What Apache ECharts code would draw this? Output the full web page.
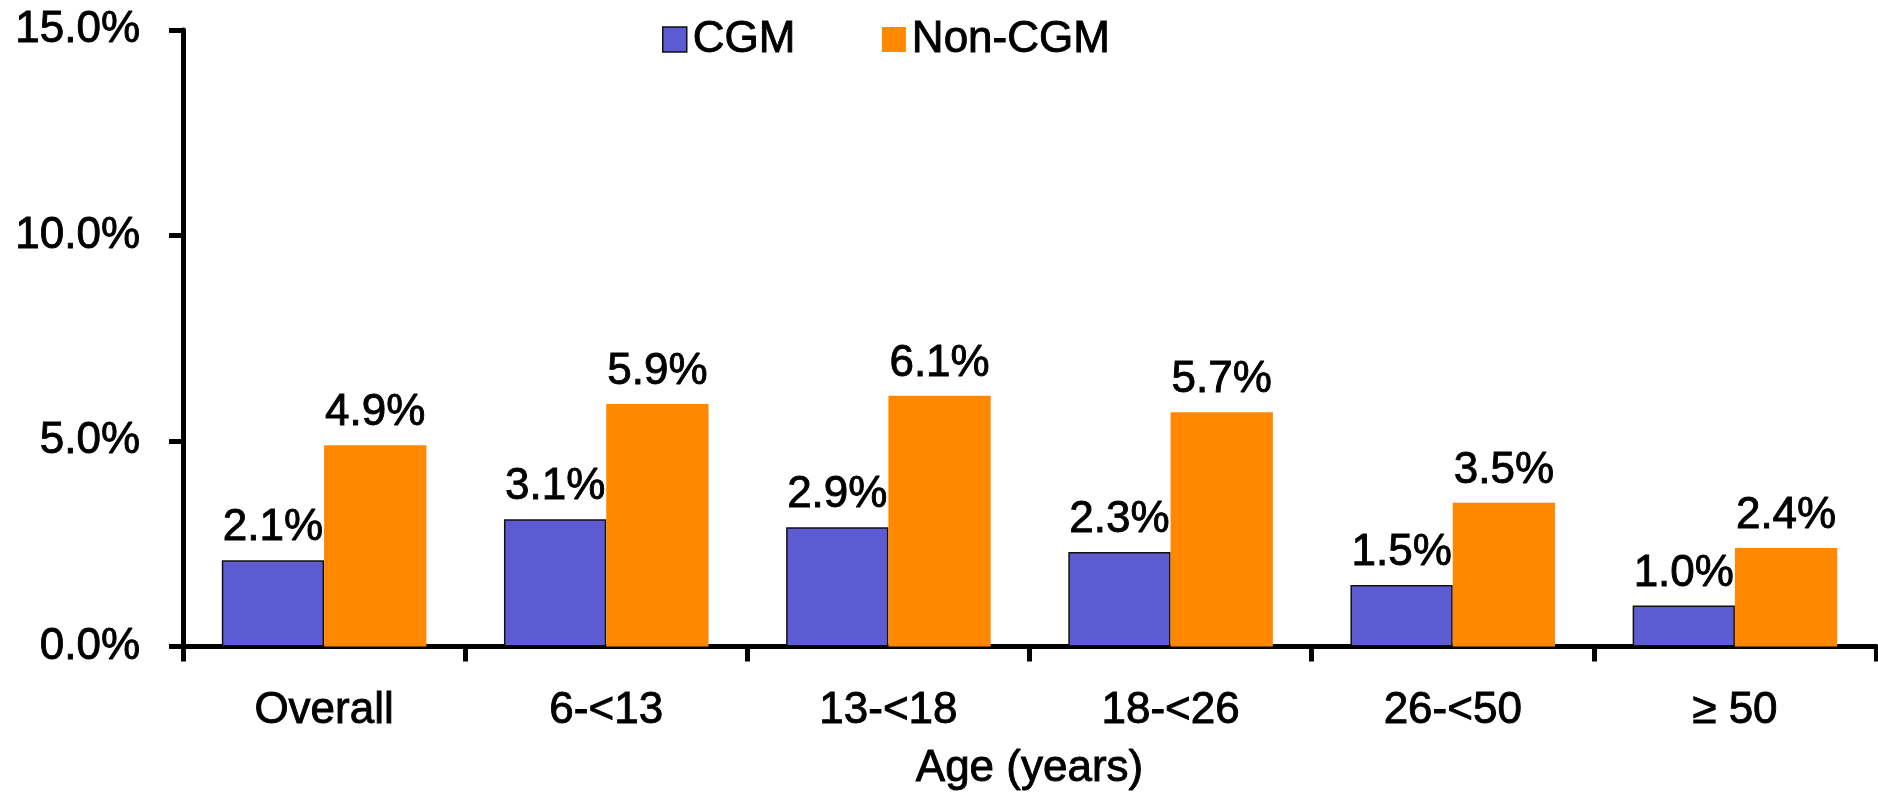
<!DOCTYPE html>
<html>
<head>
<meta charset="utf-8">
<script src="https://cdn.jsdelivr.net/npm/echarts@6/dist/echarts.min.js"></script>
<style>
  html, body { margin: 0; padding: 0; background: #ffffff; }
  #chart { width: 1878px; height: 796px; }
</style>
</head>
<body>
<div id="chart"></div>
<script>
// Age groups along the x axis
const categories = ['Overall', '6-<13', '13-<18', '18-<26', '26-<50', '\u2265 50'];
// Percentages per group
const cgmValues = [2.1, 3.1, 2.9, 2.3, 1.5, 1.0];
const nonCgmValues = [4.9, 5.9, 6.1, 5.7, 3.5, 2.4];
// Y axis range
const yMin = 0, yMax = 15, yStep = 5;

const FONT = '"Liberation Sans", Arial, sans-serif';
const FS = 44;
// a thin outline in the text colour gives the glyphs a slightly heavier weight
const heavy = { textBorderColor: '#000', textBorderWidth: 0.9 };

const chart = echarts.init(document.getElementById('chart'), null, { renderer: 'canvas' });

const labelStyle = Object.assign({
  show: true,
  position: 'top',
  distance: 10,
  color: '#000',
  fontFamily: FONT,
  fontSize: FS,
  formatter: p => p.value.toFixed(1) + '%'
}, heavy);

chart.setOption({
  animation: false,
  backgroundColor: '#ffffff',
  textStyle: { fontFamily: FONT },
  legend: {
    top: 12,
    left: 657,
    icon: 'rect',
    itemWidth: 24,
    itemHeight: 25,
    itemGap: 86,
    textStyle: Object.assign({ fontFamily: FONT, fontSize: FS, color: '#000', padding: [0, 0, 0, 1] }, heavy),
    data: [
      { name: 'CGM', itemStyle: { color: '#5D5BD1', borderColor: '#111', borderWidth: 1.5 } },
      { name: 'Non-CGM', itemStyle: { color: '#FF8800', borderWidth: 0 } }
    ]
  },
  grid: { left: 183, right: 2, top: 30, bottom: 146, containLabel: false },
  xAxis: {
    type: 'category',
    data: categories,
    name: 'Age (years)',
    nameLocation: 'middle',
    nameGap: 100,
    nameTextStyle: Object.assign({ fontFamily: FONT, fontSize: FS, color: '#000' }, heavy),
    axisLine: { lineStyle: { color: '#000', width: 5 } },
    axisTick: { show: true, length: 15, lineStyle: { color: '#000', width: 5 } },
    axisLabel: Object.assign({ color: '#000', fontFamily: FONT, fontSize: FS, margin: 42 }, heavy),
    splitLine: { show: false }
  },
  yAxis: {
    type: 'value',
    min: yMin,
    max: yMax,
    interval: yStep,
    axisLine: { show: true, lineStyle: { color: '#000', width: 5 } },
    axisTick: { show: true, length: 14, lineStyle: { color: '#000', width: 5 } },
    axisLabel: Object.assign({
      color: '#000', fontFamily: FONT, fontSize: FS, margin: 43,
      formatter: v => v.toFixed(1) + '%'
    }, heavy),
    splitLine: { show: false }
  },
  series: [
    {
      name: 'CGM',
      type: 'bar',
      data: cgmValues,
      barGap: '0%',
      barCategoryGap: '27.5%',
      itemStyle: { color: '#5D5BD1', borderColor: '#111', borderWidth: 1.5 },
      label: labelStyle
    },
    {
      name: 'Non-CGM',
      type: 'bar',
      data: nonCgmValues,
      barGap: '0%',
      barCategoryGap: '27.5%',
      itemStyle: { color: '#FF8800' },
      label: labelStyle
    }
  ]
});
</script>
</body>
</html>
